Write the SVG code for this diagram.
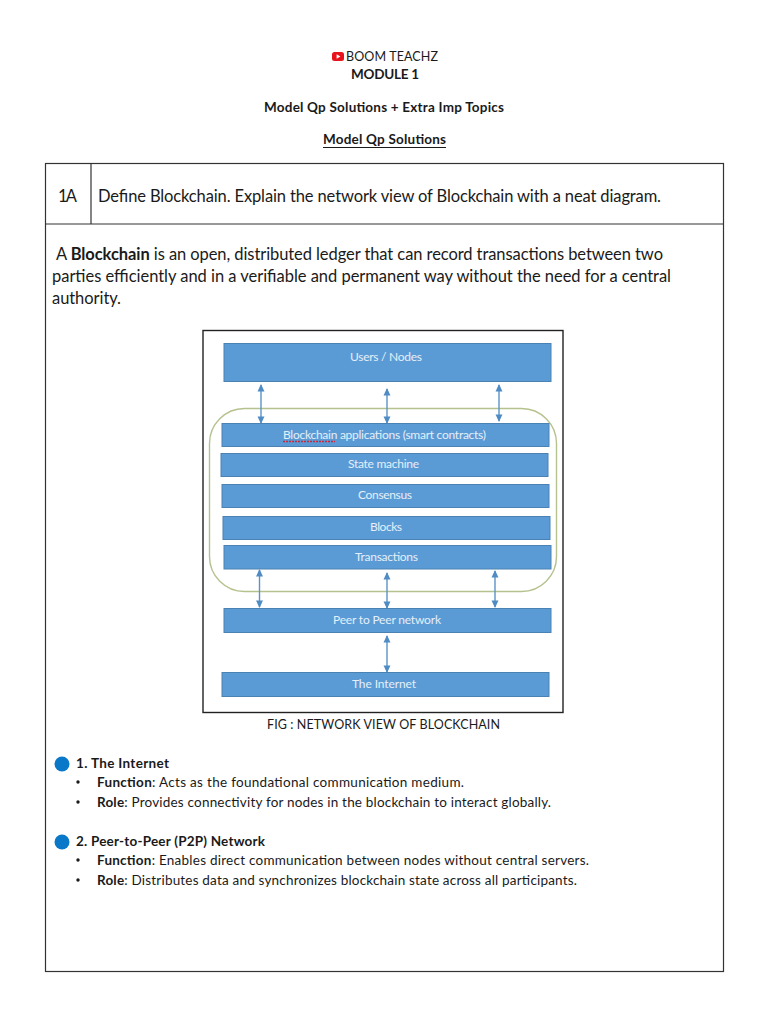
<svg xmlns="http://www.w3.org/2000/svg" width="768" height="1024" viewBox="0 0 768 1024">
<style>
text{font-family:"Lato","Carlito","Liberation Sans",sans-serif;fill:#1a1a1a}
.h{font-size:13.5px;text-anchor:start}
.t{font-size:12.5px;text-anchor:start}
.b{font-weight:700}
.q{font-size:16.5px}
.p{font-size:13.5px}
.f{font-size:12.5px}
.n{fill:#5b9bd5;stroke:#4a82b4;stroke-width:1}
.l{font-size:12px;fill:#e4eff9;text-anchor:start}
.c{stroke:#5b93c7;stroke-width:1.4;fill:none;marker-start:url(#a);marker-end:url(#a)}
</style>
<defs>
<marker id="a" viewBox="0 0 8 8" refX="7" refY="4" markerWidth="7.500" markerHeight="7.500" markerUnits="userSpaceOnUse" orient="auto-start-reverse"><path d="M0 0.3L8 4L0 7.7Z" fill="#4f8cc4"/></marker>
</defs>
<rect width="768" height="1024" fill="#fff"/>

<g id="header">
<rect x="332" y="52" width="12" height="9" rx="2.500" fill="#e8141c"/>
<path d="M336.600 54.300L340.400 56.500L336.600 58.700Z" fill="#fff"/>
<text class="t" x="346" y="61" textLength="92">BOOM TEACHZ</text>
<text class="h b" x="351" y="79" textLength="68">MODULE 1</text>
<text class="h b" x="264" y="112" textLength="240">Model Qp Solutions + Extra Imp Topics</text>
<text class="h b" x="323" y="144" textLength="123">Model Qp Solutions</text>
<line x1="323" y1="147.500" x2="446" y2="147.500" stroke="#1a1a1a" stroke-width="1"/>
</g>

<g id="table" fill="none" stroke="#333" stroke-width="1.200">
<rect x="45.500" y="163.500" width="678" height="808"/>
<line x1="45.500" y1="224" x2="723.500" y2="224"/>
<line x1="91" y1="163.500" x2="91" y2="224"/>
</g>

<g id="question">
<text class="q" x="58" y="202" textLength="19">1A</text>
<text class="q" x="98" y="202" textLength="563">Define Blockchain. Explain the network view of Blockchain with a neat diagram.</text>
<text class="q" x="56" y="260" textLength="607">A <tspan class="b">Blockchain</tspan> is an open, distributed ledger that can record transactions between two</text>
<text class="q" x="52" y="282" textLength="619">parties efficiently and in a verifiable and permanent way without the need for a central</text>
<text class="q" x="52" y="304" textLength="69">authority.</text>
</g>

<g id="figure-frame">
<rect x="203" y="330.500" width="360" height="382" fill="#fff" stroke="#222" stroke-width="1.400"/>
<rect x="209.500" y="408.500" width="347" height="183" rx="35" fill="none" stroke="#b5c28e" stroke-width="1.400"/>
</g>

<g id="connectors">
<line class="c" x1="261" y1="385" x2="261" y2="423"/>
<line class="c" x1="387" y1="389" x2="387" y2="423"/>
<line class="c" x1="499" y1="385" x2="499" y2="421"/>
<line class="c" x1="259.500" y1="570" x2="259.500" y2="607"/>
<line class="c" x1="387" y1="573" x2="387" y2="608"/>
<line class="c" x1="495" y1="571" x2="495" y2="607"/>
<line class="c" x1="387" y1="636" x2="387" y2="672"/>
</g>

<g id="users"><rect class="n" x="224" y="343.500" width="327" height="38"/><text class="l" x="350" y="361" textLength="72">Users / Nodes</text></g>
<g id="apps"><rect class="n" x="222" y="423.500" width="327" height="23"/><text class="l" x="283" y="439" textLength="203">Blockchain applications (smart contracts)</text>
<path d="M283 441.500h52" stroke="#c8283c" stroke-width="1.400" stroke-dasharray="2 1" fill="none"/></g>
<g id="state"><rect class="n" x="221" y="453.500" width="327" height="23"/><text class="l" x="348" y="468" textLength="71">State machine</text></g>
<g id="consensus"><rect class="n" x="222" y="484.500" width="327" height="23"/><text class="l" x="358" y="499" textLength="54">Consensus</text></g>
<g id="blocks"><rect class="n" x="223" y="516.500" width="327" height="23"/><text class="l" x="370" y="531" textLength="32">Blocks</text></g>
<g id="transactions"><rect class="n" x="224" y="545.500" width="327" height="23.500"/><text class="l" x="355" y="561" textLength="63">Transactions</text></g>
<g id="p2p"><rect class="n" x="224" y="608.500" width="327" height="24"/><text class="l" x="333" y="624" textLength="108">Peer to Peer network</text></g>
<g id="internet"><rect class="n" x="222" y="672.500" width="327" height="24"/><text class="l" x="352" y="688" textLength="64">The Internet</text></g>

<text class="f" x="267" y="729" textLength="233">FIG : NETWORK VIEW OF BLOCKCHAIN</text>

<g id="section-1">
<circle cx="62" cy="764" r="7.500" fill="#0a78c8"/>
<text class="p b" x="76" y="768" textLength="93">1. The Internet</text>
<circle cx="78" cy="782" r="1.700" fill="#1a1a1a"/>
<text class="p" x="97" y="787" textLength="367"><tspan class="b">Function</tspan>: Acts as the foundational communication medium.</text>
<circle cx="78" cy="802" r="1.700" fill="#1a1a1a"/>
<text class="p" x="97" y="807" textLength="454"><tspan class="b">Role</tspan>: Provides connectivity for nodes in the blockchain to interact globally.</text>
</g>

<g id="section-2">
<circle cx="62" cy="842" r="7.500" fill="#0a78c8"/>
<text class="p b" x="76" y="846" textLength="189">2. Peer-to-Peer (P2P) Network</text>
<circle cx="78" cy="860" r="1.700" fill="#1a1a1a"/>
<text class="p" x="97" y="865" textLength="492"><tspan class="b">Function</tspan>: Enables direct communication between nodes without central servers.</text>
<circle cx="78" cy="880" r="1.700" fill="#1a1a1a"/>
<text class="p" x="97" y="885" textLength="480"><tspan class="b">Role</tspan>: Distributes data and synchronizes blockchain state across all participants.</text>
</g>
</svg>
